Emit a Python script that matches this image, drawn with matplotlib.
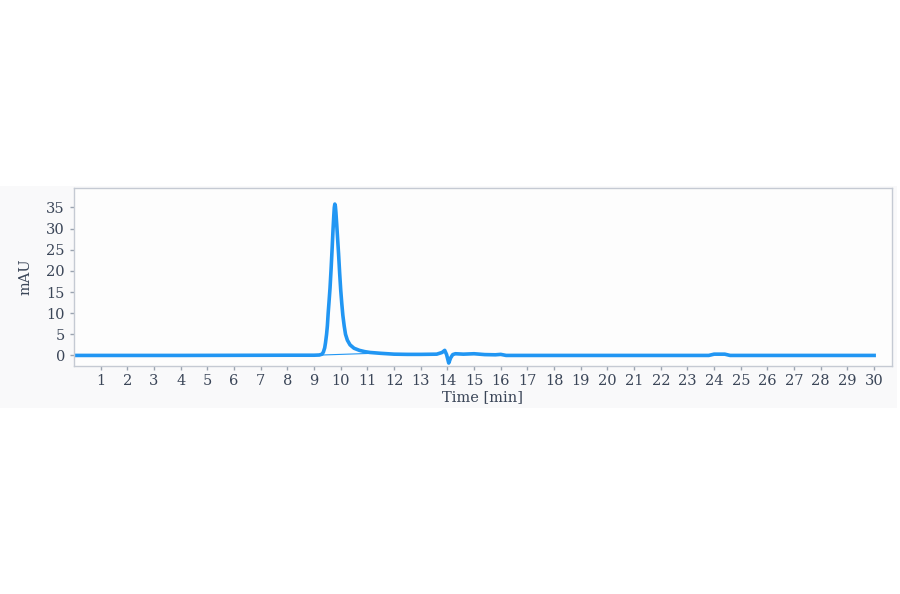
import numpy as np
import matplotlib.pyplot as plt
from matplotlib.patches import Rectangle

# chromatogram trace (time in min, signal in mAU)
time_min = [0.0, 4.0, 8.0, 9.0, 9.2, 9.3, 9.35, 9.4, 9.43, 9.47, 9.5, 9.53, 9.56,
            9.6, 9.64, 9.68, 9.71, 9.74, 9.76, 9.78, 9.8, 9.82, 9.85, 9.88,
            9.92, 9.96, 10.0, 10.04, 10.08, 10.13, 10.18, 10.25, 10.35, 10.5,
            10.7, 10.9, 11.1, 11.5, 12.0, 12.5, 13.0, 13.6, 13.8, 13.9, 13.97,
            14.05, 14.12, 14.2, 14.3, 14.6, 15.0, 15.4, 15.8, 16.0, 16.2, 20.0,
            23.8, 24.0, 24.4, 24.6, 28.0, 30.0]
signal_mau = [0.0, 0.0, 0.05, 0.05, 0.1, 0.3, 0.8, 1.8, 3.0, 5.0, 7.0, 10.0, 12.5,
              16.0, 20.5, 25.5, 29.5, 33.0, 35.0, 35.8, 35.3, 33.8, 31.0, 28.0,
              24.0, 19.5, 15.5, 12.3, 9.5, 7.0, 5.0, 3.6, 2.5, 1.7,
              1.2, 0.9, 0.7, 0.5, 0.3, 0.25, 0.25, 0.3, 0.7, 1.2, 0.2,
              -1.8, -0.6, 0.2, 0.4, 0.3, 0.4, 0.2, 0.15, 0.25, 0.0, 0.0,
              0.0, 0.3, 0.3, 0.0, 0.0, 0.0]

# integration baseline under the main peak
base_t = [9.3, 11.2]
base_v = [0.1, 0.5]

xticks = list(range(1, 31))
yticks = [0, 5, 10, 15, 20, 25, 30, 35]

text_col = '#3b4658'
line_col = '#2196f3'

plt.rcParams['font.family'] = ['DejaVu Serif']

fig = plt.figure(figsize=(9, 5.94), dpi=100)
# light panel behind the chart
panel = Rectangle((0.0, 186 / 594), 897 / 900, 222 / 594,
                  transform=fig.transFigure, facecolor='#f9f9fa',
                  edgecolor='none', zorder=-10)
fig.patches.append(panel)

ax = fig.add_axes([74 / 900, 1 - 366 / 594, (892 - 74) / 900, (366 - 188) / 594])
ax.set_zorder(5)
ax.set_facecolor('#fdfdfd')

ax.plot(time_min, signal_mau, color=line_col, lw=2.6, solid_joinstyle='round')
ax.plot(base_t, base_v, color=line_col, lw=0.8)

ax.set_xlim(0, 30.67)
ax.set_ylim(-2.5, 39.6)
ax.set_xticks(xticks)
ax.set_yticks(yticks)
ax.tick_params(axis='both', colors='#9aa3b0', labelcolor=text_col,
               labelsize=10.5, length=3, width=1)
ax.tick_params(axis='x', pad=3)

for s in ax.spines.values():
    s.set_color('#c5cad3')
    s.set_linewidth(1)

ax.set_xlabel('Time [min]', color=text_col, fontsize=10.5, labelpad=1)
ax.set_ylabel('mAU', color=text_col, fontsize=10.5, labelpad=10)

plt.savefig('out.png', dpi=100)
